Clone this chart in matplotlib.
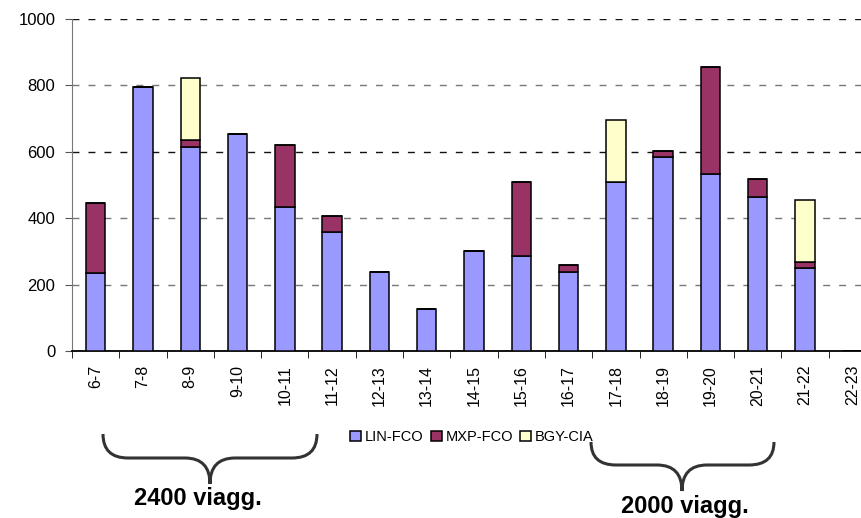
import matplotlib.pyplot as plt
import numpy as np
from matplotlib.path import Path
from matplotlib.patches import PathPatch

plt.rcParams['font.family'] = ['Liberation Sans', 'DejaVu Sans']

fasce = ['6-7', '7-8', '8-9', '9-10', '10-11', '11-12', '12-13', '13-14', '14-15',
         '15-16', '16-17', '17-18', '18-19', '19-20', '20-21', '21-22', '22-23']
lin_fco = [234, 795, 613, 655, 435, 357, 239, 128, 300, 287, 238, 508, 585, 532, 463, 251, 0]
mxp_fco = [213, 0, 23, 0, 184, 50, 0, 0, 0, 221, 20, 0, 18, 324, 54, 17, 0]
bgy_cia = [0, 0, 187, 0, 0, 0, 0, 0, 0, 0, 0, 188, 0, 0, 0, 187, 0]

W, H = 861, 518
fig = plt.figure(figsize=(W / 100, H / 100), dpi=100)
# l'area del grafico esce oltre il bordo destro, come nell'originale
ax = fig.add_axes([72 / W, (H - 351) / H, 804 / W, 332 / H])

x = np.arange(len(fasce))
w = 0.41
kw = dict(width=w, edgecolor='black', linewidth=1.1, zorder=3)
ax.bar(x, lin_fco, color='#9999ff', label='LIN-FCO', **kw)
ax.bar(x, mxp_fco, bottom=lin_fco, color='#993366', label='MXP-FCO', **kw)
base = np.array(lin_fco) + np.array(mxp_fco)
ax.bar(x, bgy_cia, bottom=base, color='#ffffcc', label='BGY-CIA', **kw)

ax.set_xlim(-0.5, len(fasce) - 0.5)
ax.set_ylim(0, 1000)
ax.set_yticks(range(0, 1001, 200))
ax.yaxis.grid(True, linestyle=(0, (5, 6.5)), linewidth=1.0, zorder=0)
for i, gl in enumerate(ax.get_ygridlines()):
    gl.set_color('#111111' if i in (3, 5) else '#777777')
ax.tick_params(axis='y', labelsize=12, length=5, pad=7, color='#555555')

ax.set_xticks(x)
ax.set_xticklabels(fasce, rotation=90, fontsize=11.5)
ax.set_xticks(np.arange(-0.5, len(fasce), 1), minor=True)
ax.tick_params(axis='x', which='major', length=0, pad=10)
ax.tick_params(axis='x', which='minor', length=5, color='black')

for s in ['top', 'right']:
    ax.spines[s].set_visible(False)
ax.spines['left'].set_color('#777777')
ax.spines['bottom'].set_color('black')
ax.spines['bottom'].set_linewidth(1.3)

fig.legend(loc='center', bbox_to_anchor=(472 / W, (H - 437) / H), ncol=3,
           frameon=False, fontsize=10.5, handlelength=0.75, handleheight=0.75,
           handletextpad=0.25, columnspacing=0.5, borderpad=0)


def graffa(x0, x1, xc, ytop, ymid, ybot, r=25):
    pts = [(x0, ytop), (x0, ymid), (x0 + r, ymid),
           (xc - r, ymid),
           (xc, ymid), (xc, ybot),
           (xc, ymid), (xc + r, ymid),
           (x1 - r, ymid),
           (x1, ymid), (x1, ytop)]
    codes = [Path.MOVETO, Path.CURVE3, Path.CURVE3, Path.LINETO,
             Path.CURVE3, Path.CURVE3, Path.CURVE3, Path.CURVE3,
             Path.LINETO, Path.CURVE3, Path.CURVE3]
    pts = [(px / W, (H - py) / H) for px, py in pts]
    fig.add_artist(PathPatch(Path(pts, codes), transform=fig.transFigure,
                             fill=False, edgecolor='#333333', linewidth=2.2))


graffa(103, 317, 210, 434, 458, 484)
graffa(591, 774, 682, 442, 465, 491)
fig.text(198 / W, (H - 499) / H, '2400 viagg.', fontsize=17, fontweight='bold',
         ha='center', va='center')
fig.text(685 / W, (H - 507) / H, '2000 viagg.', fontsize=17, fontweight='bold',
         ha='center', va='center')

fig.savefig('out.png', dpi=100)
